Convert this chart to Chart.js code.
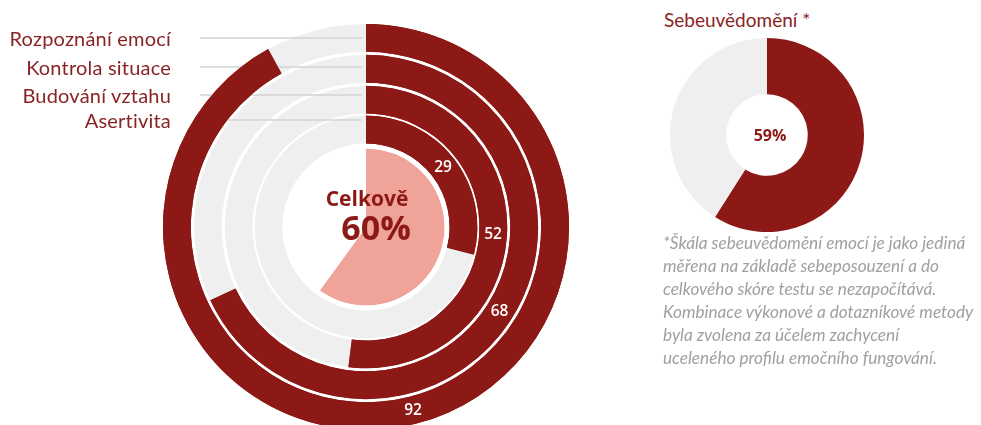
<!DOCTYPE html>
<html lang="cs">
<head>
<meta charset="utf-8">
<script src="https://cdn.jsdelivr.net/npm/chart.js@4.4.1/dist/chart.umd.min.js"></script>
<style>
  html, body { margin: 0; padding: 0; background: #fff; overflow: hidden; }
  body { width: 981px; height: 425px; position: relative; }
  #mainChart { position: absolute; left: 0; top: 0; }
  #selfChart { position: absolute; left: 667px; top: 35px; }
  .skill {
    position: absolute; right: 810px; height: 24px; line-height: 24px;
    font-family: "Lato", sans-serif; font-size: 20px; letter-spacing: 0.2px; color: #8a2424; white-space: nowrap;
  }
  #selfTitle {
    position: absolute; left: 664px; top: 8px; line-height: 24px;
    font-family: "Lato", sans-serif; font-size: 19px; color: #8a2424; white-space: nowrap;
  }
  #note {
    position: absolute; left: 663px; top: 231px; width: 320px;
    font-family: "Lato", sans-serif; font-style: italic; font-size: 17.2px; line-height: 23px;
    color: #a0a0a0; white-space: nowrap;
  }
</style>
</head>
<body>
<canvas id="mainChart" width="620" height="454"></canvas>
<div id="skillLabels"></div>
<div id="selfTitle">Sebeuvědomění *</div>
<canvas id="selfChart" width="200" height="200"></canvas>
<div id="note">*Škála sebeuvědomění emocí je jako jediná<br>měřena na základě sebeposouzení a do<br>celkového skóre testu se nezapočítává.<br>Kombinace výkonové a dotazníkové metody<br>byla zvolena za účelem zachycení<br>uceleného profilu emočního fungování.</div>
<script>
// dílčí škály (od vnějšího kruhu dovnitř)
const skills = ['Rozpoznání emocí', 'Kontrola situace', 'Budování vztahu', 'Asertivita'];
const skillScores = [92, 68, 52, 29];
const totalLabel = 'Celkově';
const totalScore = 60;
const selfLabel = 'Sebeuvědomění';
const selfScore = 59;

const RED = '#8c1915';
const GREY = '#efefef';
const PINK = '#f0a398';

// tloušťky kruhů v px (weight), mezery mezi nimi jsou bílé kroužky
const RING_W = 28;
const GAP_W = [3, 3, 2, 5];
const PIE_W = 79;
const labelY = [38, 67, 95, 120];

// popisky vlevo
const labelBox = document.getElementById('skillLabels');
skills.forEach((s, i) => {
    const d = document.createElement('div');
    d.className = 'skill';
    d.style.top = (labelY[i] - 12) + 'px';
    d.textContent = s;
    labelBox.appendChild(d);
});

const datasets = [];
const ringIdx = [];
skillScores.forEach((v, i) => {
    ringIdx.push(datasets.length);
    datasets.push({ label: skills[i], data: [v, 100 - v], backgroundColor: [RED, GREY], weight: RING_W, borderWidth: 0 });
    datasets.push({ label: '', data: [1], backgroundColor: ['#ffffff'], weight: GAP_W[i], borderWidth: 0 });
});
datasets.push({ label: totalLabel, data: [totalScore, 100 - totalScore], backgroundColor: [PINK, '#ffffff'], weight: PIE_W, borderWidth: 0 });

const ringLabels = {
    id: 'ringLabels',
    afterDatasetsDraw(chart) {
        const ctx = chart.ctx;
        const cx = (chart.chartArea.left + chart.chartArea.right) / 2;
        const cy = (chart.chartArea.top + chart.chartArea.bottom) / 2;

        // vodicí čáry k popiskům
        ctx.save();
        ctx.strokeStyle = '#d3d3d3';
        ctx.lineWidth = 1.5;
        labelY.forEach(y => {
            ctx.beginPath();
            ctx.moveTo(200, y);
            ctx.lineTo(cx - 4, y);
            ctx.stroke();
        });
        ctx.restore();

        // červené oblouky přes čáry + hodnoty
        ringIdx.forEach(di => {
            chart.getDatasetMeta(di).data[0].draw(ctx);
        });
        ctx.save();
        ctx.fillStyle = '#ffffff';
        ctx.font = '600 15.5px "Open Sans", sans-serif';
        ctx.textAlign = 'center';
        ctx.textBaseline = 'middle';
        ringIdx.forEach((di, i) => {
            const p = chart.getDatasetMeta(di).data[0].tooltipPosition();
            ctx.fillText(String(skillScores[i]), p.x, p.y);
        });

        // celkové skóre uprostřed
        ctx.fillStyle = RED;
        ctx.font = 'bold 21px "Open Sans", sans-serif';
        ctx.fillText(totalLabel, cx + 1, cy - 27);
        ctx.font = 'bold 34px "Open Sans", sans-serif';
        ctx.fillText(totalScore + '%', cx + 10, cy + 3);
        ctx.restore();
    }
};

new Chart(document.getElementById('mainChart'), {
    type: 'doughnut',
    data: { labels: ['skóre', 'zbytek'], datasets },
    options: {
        responsive: false,
        animation: false,
        cutout: 0,
        radius: 203,
        layout: { padding: { left: 112 } },
        plugins: { legend: { display: false }, tooltip: { enabled: false } }
    },
    plugins: [ringLabels]
});

const selfCenter = {
    id: 'selfCenter',
    afterDatasetsDraw(chart) {
        const ctx = chart.ctx;
        const a = chart.chartArea;
        ctx.save();
        ctx.fillStyle = RED;
        ctx.font = 'bold 16px "Open Sans", sans-serif';
        ctx.textAlign = 'center';
        ctx.textBaseline = 'middle';
        ctx.fillText(selfScore + '%', (a.left + a.right) / 2 + 3, (a.top + a.bottom) / 2 + 1);
        ctx.restore();
    }
};

new Chart(document.getElementById('selfChart'), {
    type: 'doughnut',
    data: {
        labels: ['skóre', 'zbytek'],
        datasets: [{ label: selfLabel, data: [selfScore, 100 - selfScore], backgroundColor: [RED, GREY], borderWidth: 0 }]
    },
    options: {
        responsive: false,
        animation: false,
        cutout: '42%',
        radius: 97,
        plugins: { legend: { display: false }, tooltip: { enabled: false } }
    },
    plugins: [selfCenter]
});
</script>
</body>
</html>
